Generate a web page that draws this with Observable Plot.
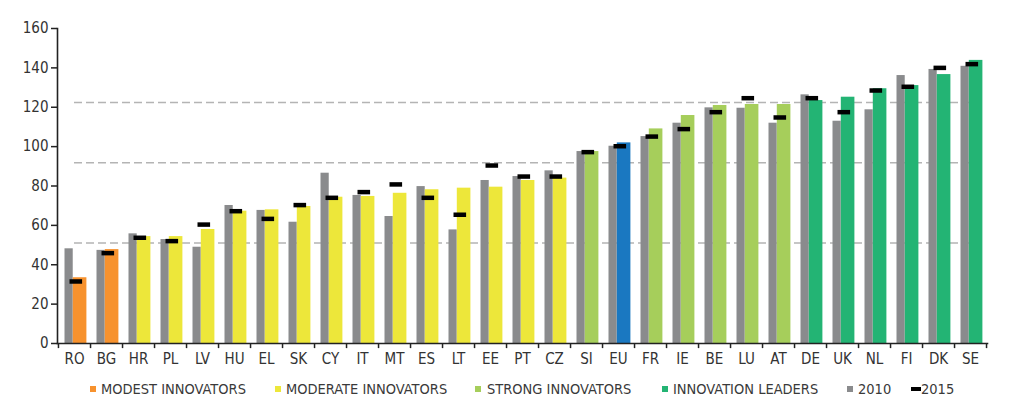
<!DOCTYPE html>
<html>
<head>
<meta charset="utf-8">
<script src="https://cdn.jsdelivr.net/npm/d3@7"></script>
<script src="https://cdn.jsdelivr.net/npm/@observablehq/plot@0.6"></script>
<style>
  html, body { margin: 0; padding: 0; background: #fff; }
  body { font-family: "DejaVu Sans Condensed", "DejaVu Sans", sans-serif; font-stretch: condensed; color: #333; }
  #wrap { position: relative; width: 1024px; height: 405px; }
  #legend { position: relative; width: 1024px; height: 33px; font-size: 14.5px; color: #3a3a3a; }
  .sw { position: absolute; top: 14px; width: 6px; height: 6px; }
  .lt { position: absolute; top: 8px; line-height: 18px; white-space: nowrap; }
</style>
</head>
<body>
<div id="wrap">
  <div id="chart"></div>
  <div id="legend"></div>
</div>
<script>
const countries = ["RO","BG","HR","PL","LV","HU","EL","SK","CY","IT","MT","ES","LT","EE","PT","CZ","SI","EU","FR","IE","BE","LU","AT","DE","UK","NL","FI","DK","SE"];
const groups = ["modest","modest","moderate","moderate","moderate","moderate","moderate","moderate","moderate","moderate","moderate","moderate","moderate","moderate","moderate","moderate","strong","eu","strong","strong","strong","strong","strong","leader","leader","leader","leader","leader","leader"];
const v2010 = [48.1,47.3,55.7,52.8,48.9,70.1,67.6,61.6,86.5,75.2,64.5,79.7,57.7,82.8,84.8,87.7,97.5,100.2,105.1,111.9,119.7,119.5,111.9,126.3,112.9,118.7,136.1,139.2,140.8];
const v2016 = [33.4,47.7,54.3,54.3,57.9,67.2,67.9,69.6,74.3,74.7,76.3,78.1,78.9,79.4,82.8,84.0,97.5,101.9,109.0,115.8,120.9,121.4,121.4,123.4,125.1,129.4,131.0,136.6,143.8];
const v2015 = [31.5,45.9,53.7,52.0,60.4,67.2,63.3,70.3,74.0,76.9,80.8,74.0,65.4,90.4,84.8,84.8,97.2,100.2,105.1,108.9,117.5,124.6,114.8,124.6,117.5,128.5,130.4,140.0,141.9];
const thresholds = [51.0, 91.8, 122.4];
const yTicks = [0,20,40,60,80,100,120,140,160];
const groupColors = {modest: "#f7922e", moderate: "#ede73a", strong: "#a6ce5b", leader: "#23b474", eu: "#1a78c1"};
const legendItems = [
  {label: "MODEST INNOVATORS", color: "#f7922e", sx: 90, tx: 101},
  {label: "MODERATE INNOVATORS", color: "#ede73a", sx: 275, tx: 286},
  {label: "STRONG INNOVATORS", color: "#a6ce5b", sx: 475, tx: 487},
  {label: "INNOVATION LEADERS", color: "#23b474", sx: 662, tx: 673},
  {label: "2010", color: "#8a8b8d", sx: 847, tx: 858}
];

const rows = countries.map((c, i) => ({country: c, group: groups[i], a: v2010[i], b: v2016[i], m: v2015[i]}));

const W = 1024, ML = 57, MR = 37;
const bw = (W - ML - MR) / countries.length;
const font = "'DejaVu Sans Condensed', 'DejaVu Sans', sans-serif";

const chart = Plot.plot({
  width: W,
  height: 372,
  marginLeft: ML,
  marginRight: MR,
  marginTop: 28,
  marginBottom: 29,
  style: {fontFamily: font, fontSize: "15px", color: "#333", background: "#fff", fontStretch: "condensed"},
  x: {domain: countries, padding: 0, axis: null},
  y: {domain: [0, 160], axis: null},
  marks: [
    Plot.ruleY(thresholds, {stroke: "#b4b4b4", strokeWidth: 1.5, strokeDasharray: "8,4", insetLeft: 17, insetRight: 14}),
    Plot.barY(rows, {x: "country", y: "a", fill: "#8a8b8d", insetLeft: 6.5, insetRight: bw - 14.8}),
    Plot.barY(rows, {x: "country", y: "b", fill: d => groupColors[d.group], insetLeft: 14.8, insetRight: 3.6}),
    Plot.tickY(rows, {x: "country", y: "m", stroke: "#000", strokeWidth: 4.5, insetLeft: 11.5, insetRight: 7.9}),
    Plot.frame({anchor: "left", stroke: "#222", strokeWidth: 1.6}),
    Plot.frame({anchor: "bottom", stroke: "#222", strokeWidth: 1.6}),
    Plot.axisY(yTicks, {tickSize: 6, tickPadding: 3, stroke: "#222", strokeWidth: 1.5, fontSize: 15, fill: "#333", label: null}),
    Plot.axisX({tickSize: 0, tickPadding: 10, fontSize: 15, fill: "#333", label: null}),
    Plot.ruleX(countries, {x: d => d, dx: bw / 2, y1: 0, y2: -2.6, stroke: "#222", strokeWidth: 1.5}),
    Plot.ruleX(countries.slice(0, 1), {x: d => d, dx: -bw / 2, y1: 0, y2: -2.6, stroke: "#222", strokeWidth: 1.5})
  ]
});
document.getElementById("chart").appendChild(chart);

const leg = document.getElementById("legend");
for (const it of legendItems) {
  const s = document.createElement("div");
  s.className = "sw"; s.style.left = it.sx + "px"; s.style.background = it.color;
  leg.appendChild(s);
  const t = document.createElement("div");
  t.className = "lt"; t.style.left = it.tx + "px"; t.textContent = it.label;
  leg.appendChild(t);
}
const dash = document.createElement("div");
dash.style.cssText = "position:absolute;left:911px;top:15px;width:10px;height:4px;background:#000;";
leg.appendChild(dash);
const t15 = document.createElement("div");
t15.className = "lt"; t15.style.left = "921px"; t15.textContent = "2015";
leg.appendChild(t15);
</script>
</body>
</html>
